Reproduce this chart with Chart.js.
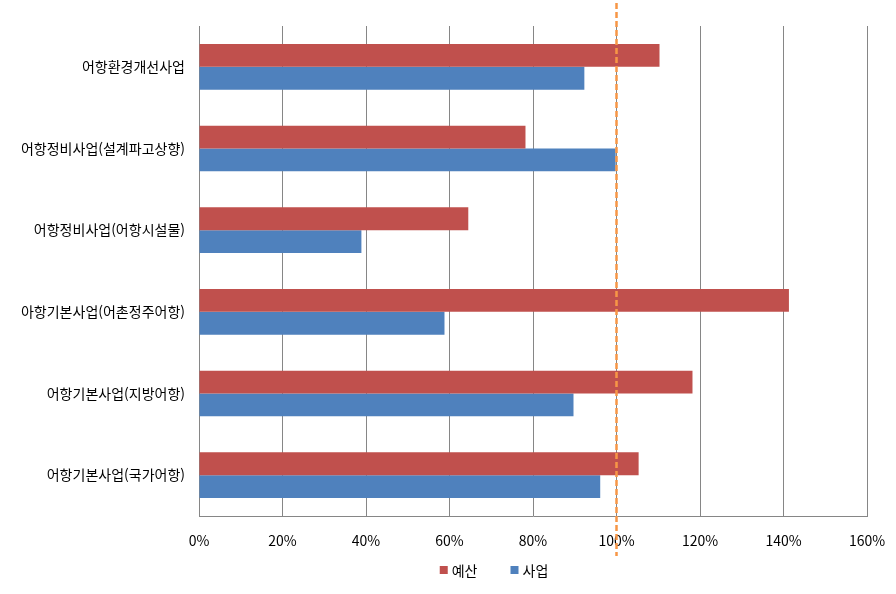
<!DOCTYPE html>
<html lang="ko">
<head>
<meta charset="UTF-8" />
<title>어항사업 예산·사업 집행률</title>
<script src="https://cdn.jsdelivr.net/npm/chart.js@4.4.0/dist/chart.umd.min.js"></script>
<style>
  html, body { margin: 0; padding: 0; background: #fff; }
  #wrap { width: 896px; height: 594px; }
</style>
</head>
<body>
<div id="wrap"><canvas id="chart" width="896" height="594"></canvas></div>
<script>
const categories = [
  "어항환경개선사업",
  "어항정비사업(설계파고상향)",
  "어항정비사업(어항시설물)",
  "아항기본사업(어촌정주어항)",
  "어항기본사업(지방어항)",
  "어항기본사업(국가어항)",
];
const budget = [110.3, 78.2, 64.5, 141.3, 118.2, 105.3];   // 예산
const project = [92.3, 99.8, 38.9, 58.8, 89.7, 96.1];     // 사업
const refLine = 100;

const FONT = "'Noto Sans CJK KR', 'Noto Sans', sans-serif";

// 100% 기준 점선
const refLinePlugin = {
  id: "refLine",
  afterDatasetsDraw(chart) {
    const x = chart.scales.x.getPixelForValue(refLine);
    const ctx = chart.ctx;
    ctx.save();
    ctx.strokeStyle = "#F79646";
    ctx.lineWidth = 2.5;
    ctx.setLineDash([6, 3]);
    ctx.beginPath();
    ctx.moveTo(x, 3);
    ctx.lineTo(x, 556);
    ctx.stroke();
    ctx.restore();
  },
};

// 엑셀식 범례 (작은 사각형 + 이름, 간격 넓게)
const legendPlugin = {
  id: "xlLegend",
  afterDraw(chart) {
    const ctx = chart.ctx;
    const y = 570;
    const box = 8, gap = 4, spacing = 33;
    ctx.save();
    ctx.font = "14px " + FONT;
    ctx.textBaseline = "middle";
    const items = chart.data.datasets.map((d) => ({ label: d.label, color: d.backgroundColor, w: ctx.measureText(d.label).width }));
    const total = items.reduce((s, it) => s + box + gap + it.w, 0) + spacing * (items.length - 1);
    let x = 494 - total / 2;
    items.forEach((it) => {
      ctx.fillStyle = it.color;
      ctx.fillRect(x, y - box / 2, box, box);
      ctx.fillStyle = "#000";
      ctx.fillText(it.label, x + box + gap, y + 1);
      x += box + gap + it.w + spacing;
    });
    ctx.restore();
  },
};

new Chart(document.getElementById("chart"), {
  type: "bar",
  data: {
    labels: categories,
    datasets: [
      { label: "예산", data: budget, backgroundColor: "#C0504D", categoryPercentage: 0.56, barPercentage: 1.0 },
      { label: "사업", data: project, backgroundColor: "#4F81BD", categoryPercentage: 0.56, barPercentage: 1.0 },
    ],
  },
  options: {
    indexAxis: "y",
    responsive: false,
    animation: false,
    layout: { padding: { top: 26, right: 29, left: 0, bottom: 38 } },
    scales: {
      x: {
        min: 0,
        max: 160,
        ticks: {
          stepSize: 20,
          callback: (v) => v + "%",
          color: "#000",
          font: { family: FONT, size: 14 },
          padding: 16,
        },
        grid: { color: "#868686", drawTicks: false },
        border: { color: "#868686" },
        afterFit(scale) {
          scale.height = 40;
          scale.paddingLeft = 0;
          scale.paddingRight = 0;
        },
      },
      y: {
        ticks: {
          color: "#000",
          font: { family: FONT, size: 14 },
          padding: 14,
        },
        grid: { display: false, drawTicks: false },
        border: { color: "#868686" },
        afterFit(scale) { scale.width = 199; },
      },
    },
    plugins: {
      legend: { display: false },
      tooltip: { enabled: false },
    },
  },
  plugins: [refLinePlugin, legendPlugin],
});
</script>
</body>
</html>
